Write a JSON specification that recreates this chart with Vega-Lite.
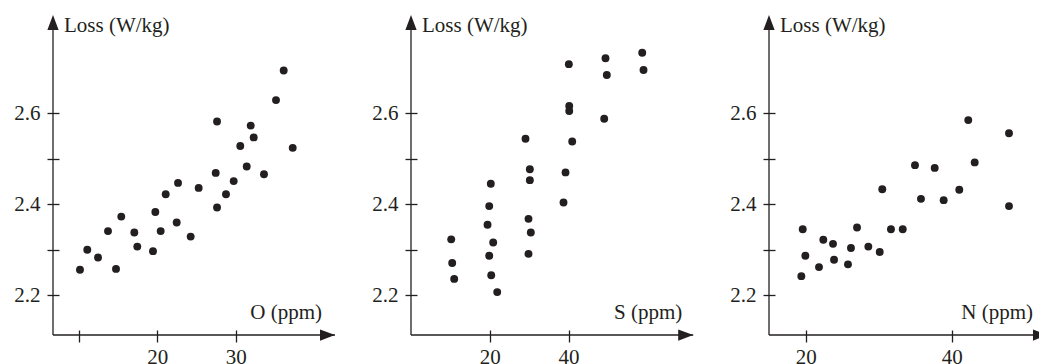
{
  "$schema": "https://vega.github.io/schema/vega-lite/v6.json",
  "padding": {"left": 13, "top": 15, "right": 0, "bottom": 0},
  "spacing": 10,
  "bounds": "flush",
  "background": "white",
  "config": {
    "view": {"stroke": null},
    "font": "Liberation Serif",
    "axis": {
      "domain": false,
      "grid": false,
      "tickColor": "#231f20",
      "tickWidth": 1.3,
      "tickSize": 12,
      "labelFont": "Liberation Serif",
      "labelFontSize": 21,
      "labelColor": "#231f20",
      "title": null
    },
    "axisY": {"offset": -6, "labelPadding": 7},
    "axisX": {"offset": -5, "labelPadding": 4},
    "text": {"font": "Liberation Serif", "fontSize": 21, "color": "#231f20"}
  },
  "datasets": {
    "oxygen": [
      {"ppm": 10.15, "loss": 2.256}, {"ppm": 11.08, "loss": 2.300}, {"ppm": 12.45, "loss": 2.283},
      {"ppm": 13.72, "loss": 2.341}, {"ppm": 14.74, "loss": 2.258}, {"ppm": 15.41, "loss": 2.373},
      {"ppm": 17.07, "loss": 2.338}, {"ppm": 17.45, "loss": 2.307}, {"ppm": 19.45, "loss": 2.297},
      {"ppm": 19.75, "loss": 2.383}, {"ppm": 20.43, "loss": 2.341}, {"ppm": 21.07, "loss": 2.422},
      {"ppm": 22.47, "loss": 2.360}, {"ppm": 22.64, "loss": 2.447}, {"ppm": 24.25, "loss": 2.329},
      {"ppm": 25.27, "loss": 2.436}, {"ppm": 27.44, "loss": 2.469}, {"ppm": 27.61, "loss": 2.582},
      {"ppm": 27.61, "loss": 2.393}, {"ppm": 28.75, "loss": 2.422}, {"ppm": 29.73, "loss": 2.451},
      {"ppm": 30.57, "loss": 2.528}, {"ppm": 31.39, "loss": 2.483}, {"ppm": 31.90, "loss": 2.573},
      {"ppm": 32.28, "loss": 2.547}, {"ppm": 33.59, "loss": 2.466}, {"ppm": 35.12, "loss": 2.629},
      {"ppm": 36.10, "loss": 2.694}, {"ppm": 37.25, "loss": 2.524}
    ],
    "sulfur": [
      {"ppm": 10.19, "loss": 2.323}, {"ppm": 10.44, "loss": 2.271}, {"ppm": 10.95, "loss": 2.236},
      {"ppm": 20.25, "loss": 2.445}, {"ppm": 19.85, "loss": 2.396}, {"ppm": 19.42, "loss": 2.355},
      {"ppm": 20.86, "loss": 2.316}, {"ppm": 19.85, "loss": 2.287}, {"ppm": 20.36, "loss": 2.244},
      {"ppm": 21.88, "loss": 2.207}, {"ppm": 29.07, "loss": 2.544}, {"ppm": 30.17, "loss": 2.477},
      {"ppm": 30.17, "loss": 2.453}, {"ppm": 29.83, "loss": 2.368}, {"ppm": 30.42, "loss": 2.338},
      {"ppm": 29.83, "loss": 2.291}, {"ppm": 40.08, "loss": 2.708}, {"ppm": 40.18, "loss": 2.616},
      {"ppm": 40.18, "loss": 2.605}, {"ppm": 40.94, "loss": 2.538}, {"ppm": 39.24, "loss": 2.470},
      {"ppm": 38.73, "loss": 2.404}, {"ppm": 49.40, "loss": 2.721}, {"ppm": 49.73, "loss": 2.684},
      {"ppm": 49.07, "loss": 2.588}, {"ppm": 58.73, "loss": 2.733}, {"ppm": 59.06, "loss": 2.695}
    ],
    "nitrogen": [
      {"ppm": 19.40, "loss": 2.242}, {"ppm": 19.59, "loss": 2.345}, {"ppm": 19.95, "loss": 2.287},
      {"ppm": 21.82, "loss": 2.262}, {"ppm": 22.41, "loss": 2.322}, {"ppm": 23.74, "loss": 2.313},
      {"ppm": 23.88, "loss": 2.278}, {"ppm": 25.79, "loss": 2.268}, {"ppm": 26.20, "loss": 2.304},
      {"ppm": 27.03, "loss": 2.349}, {"ppm": 28.58, "loss": 2.307}, {"ppm": 30.14, "loss": 2.295},
      {"ppm": 30.49, "loss": 2.433}, {"ppm": 31.68, "loss": 2.345}, {"ppm": 33.29, "loss": 2.345},
      {"ppm": 34.97, "loss": 2.486}, {"ppm": 35.79, "loss": 2.412}, {"ppm": 37.67, "loss": 2.480},
      {"ppm": 38.90, "loss": 2.409}, {"ppm": 41.04, "loss": 2.432}, {"ppm": 42.27, "loss": 2.585},
      {"ppm": 43.15, "loss": 2.492}, {"ppm": 47.85, "loss": 2.556}, {"ppm": 47.85, "loss": 2.396}
    ]
  },
  "hconcat": [
    {
      "width": 347.5,
      "height": 320,
      "layer": [
        {
          "data": {"name": "oxygen"},
          "mark": {"type": "point", "shape": "circle", "filled": true, "size": 62, "opacity": 1, "color": "#231f20"},
          "encoding": {
            "x": {"field": "ppm", "type": "quantitative", "scale": {"domain": [6.713, 50.98], "nice": false, "zero": false},
                  "axis": {"values": [10, 20, 30], "labelExpr": "datum.value == 10 ? '' : datum.label"}},
            "y": {"field": "loss", "type": "quantitative", "scale": {"domain": [2.1127, 2.816], "nice": false, "zero": false},
                  "axis": {"values": [2.2, 2.3, 2.4, 2.5, 2.6], "labelExpr": "round(datum.value * 10) % 2 == 0 ? format(datum.value, '.1f') : ''"}}
          }
        },
        {
          "data": {"values": [{}]},
          "mark": {"type": "rule", "strokeWidth": 1.3, "color": "#231f20"},
          "encoding": {"x": {"datum": 6.713}, "x2": {"datum": 42.64}, "y": {"datum": 2.1127}}
        },
        {
          "data": {"values": [{}]},
          "mark": {"type": "rule", "strokeWidth": 1.3, "color": "#231f20"},
          "encoding": {"x": {"datum": 6.713}, "y": {"datum": 2.1127}, "y2": {"datum": 2.80}}
        },
        {
          "data": {"values": [{}]},
          "mark": {"type": "point", "shape": "M0,0L-2,-0.75L-2,0.75Z", "filled": true, "size": 225, "opacity": 1, "color": "#231f20"},
          "encoding": {"x": {"datum": 42.64}, "y": {"datum": 2.1127}}
        },
        {
          "data": {"values": [{}]},
          "mark": {"type": "point", "shape": "M0,0L0.75,2L-0.75,2Z", "filled": true, "size": 225, "opacity": 1, "color": "#231f20"},
          "encoding": {"x": {"datum": 6.713}, "y": {"datum": 2.816}}
        },
        {
          "data": {"values": [{}]},
          "mark": {"type": "text", "align": "left", "baseline": "alphabetic", "dx": 11, "dy": 17},
          "encoding": {"x": {"datum": 6.713}, "y": {"datum": 2.816}, "text": {"value": "Loss (W/kg)"}}
        },
        {
          "data": {"values": [{}]},
          "mark": {"type": "text", "align": "right", "baseline": "alphabetic", "dx": -13, "dy": -16},
          "encoding": {"x": {"datum": 42.64}, "y": {"datum": 2.1127}, "text": {"value": "O (ppm)"}}
        }
      ]
    },
    {
      "width": 347.5,
      "height": 320,
      "layer": [
        {
          "data": {"name": "sulfur"},
          "mark": {"type": "point", "shape": "circle", "filled": true, "size": 62, "opacity": 1, "color": "#231f20"},
          "encoding": {
            "x": {"field": "ppm", "type": "quantitative", "scale": {"domain": [-0.03, 88.28], "nice": false, "zero": false},
                  "axis": {"values": [20, 40]}},
            "y": {"field": "loss", "type": "quantitative", "scale": {"domain": [2.1127, 2.816], "nice": false, "zero": false},
                  "axis": {"values": [2.2, 2.3, 2.4, 2.5, 2.6], "labelExpr": "round(datum.value * 10) % 2 == 0 ? format(datum.value, '.1f') : ''"}}
          }
        },
        {
          "data": {"values": [{}]},
          "mark": {"type": "rule", "strokeWidth": 1.3, "color": "#231f20"},
          "encoding": {"x": {"datum": -0.03}, "x2": {"datum": 71.69}, "y": {"datum": 2.1127}}
        },
        {
          "data": {"values": [{}]},
          "mark": {"type": "rule", "strokeWidth": 1.3, "color": "#231f20"},
          "encoding": {"x": {"datum": -0.03}, "y": {"datum": 2.1127}, "y2": {"datum": 2.80}}
        },
        {
          "data": {"values": [{}]},
          "mark": {"type": "point", "shape": "M0,0L-2,-0.75L-2,0.75Z", "filled": true, "size": 225, "opacity": 1, "color": "#231f20"},
          "encoding": {"x": {"datum": 71.69}, "y": {"datum": 2.1127}}
        },
        {
          "data": {"values": [{}]},
          "mark": {"type": "point", "shape": "M0,0L0.75,2L-0.75,2Z", "filled": true, "size": 225, "opacity": 1, "color": "#231f20"},
          "encoding": {"x": {"datum": -0.03}, "y": {"datum": 2.816}}
        },
        {
          "data": {"values": [{}]},
          "mark": {"type": "text", "align": "left", "baseline": "alphabetic", "dx": 11, "dy": 17},
          "encoding": {"x": {"datum": -0.03}, "y": {"datum": 2.816}, "text": {"value": "Loss (W/kg)"}}
        },
        {
          "data": {"values": [{}]},
          "mark": {"type": "text", "align": "right", "baseline": "alphabetic", "dx": -11, "dy": -16},
          "encoding": {"x": {"datum": 71.69}, "y": {"datum": 2.1127}, "text": {"value": "S (ppm)"}}
        }
      ]
    },
    {
      "width": 290,
      "height": 320,
      "layer": [
        {
          "data": {"name": "nitrogen"},
          "mark": {"type": "point", "shape": "circle", "filled": true, "size": 62, "opacity": 1, "color": "#231f20"},
          "encoding": {
            "x": {"field": "ppm", "type": "quantitative", "scale": {"domain": [14.97, 54.70], "nice": false, "zero": false},
                  "axis": {"values": [20, 40]}},
            "y": {"field": "loss", "type": "quantitative", "scale": {"domain": [2.1127, 2.816], "nice": false, "zero": false},
                  "axis": {"values": [2.2, 2.3, 2.4, 2.5, 2.6], "labelExpr": "round(datum.value * 10) % 2 == 0 ? format(datum.value, '.1f') : ''"}}
          }
        },
        {
          "data": {"values": [{}]},
          "mark": {"type": "rule", "strokeWidth": 1.3, "color": "#231f20"},
          "encoding": {"x": {"datum": 14.97}, "x2": {"datum": 53.19}, "y": {"datum": 2.1127}}
        },
        {
          "data": {"values": [{}]},
          "mark": {"type": "rule", "strokeWidth": 1.3, "color": "#231f20"},
          "encoding": {"x": {"datum": 14.97}, "y": {"datum": 2.1127}, "y2": {"datum": 2.80}}
        },
        {
          "data": {"values": [{}]},
          "mark": {"type": "point", "shape": "M0,0L-2,-0.75L-2,0.75Z", "filled": true, "size": 225, "opacity": 1, "color": "#231f20"},
          "encoding": {"x": {"datum": 53.19}, "y": {"datum": 2.1127}}
        },
        {
          "data": {"values": [{}]},
          "mark": {"type": "point", "shape": "M0,0L0.75,2L-0.75,2Z", "filled": true, "size": 225, "opacity": 1, "color": "#231f20"},
          "encoding": {"x": {"datum": 14.97}, "y": {"datum": 2.816}}
        },
        {
          "data": {"values": [{}]},
          "mark": {"type": "text", "align": "left", "baseline": "alphabetic", "dx": 11, "dy": 17},
          "encoding": {"x": {"datum": 14.97}, "y": {"datum": 2.816}, "text": {"value": "Loss (W/kg)"}}
        },
        {
          "data": {"values": [{}]},
          "mark": {"type": "text", "align": "right", "baseline": "alphabetic", "dx": -15, "dy": -16},
          "encoding": {"x": {"datum": 53.19}, "y": {"datum": 2.1127}, "text": {"value": "N (ppm)"}}
        }
      ]
    }
  ]
}
